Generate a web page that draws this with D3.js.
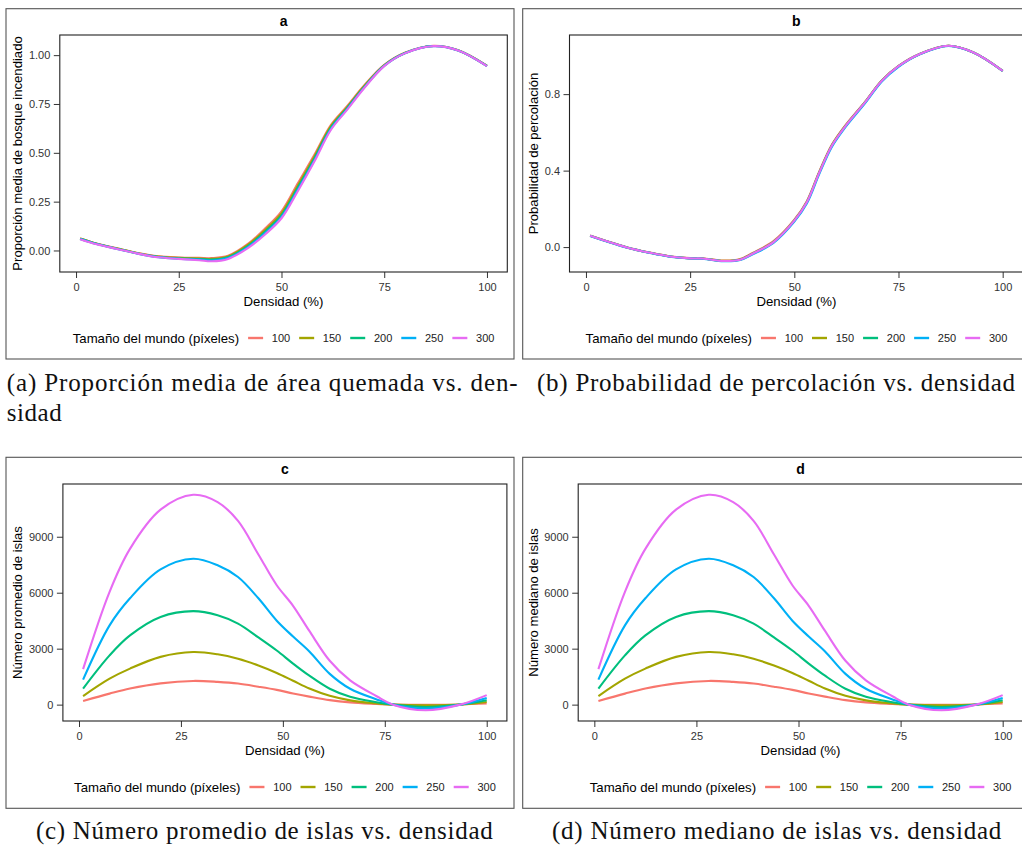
<!DOCTYPE html>
<html>
<head>
<meta charset="utf-8">
<script src="https://cdn.jsdelivr.net/npm/d3@7"></script>
<style>
  body { margin: 0; background: #fff; }
  svg { display: block; }
</style>
</head>
<body>
<svg id="fig" width="1022" height="846"></svg>
<script>
// Series: world size in pixels, one smoothed curve each
const tamanos = ['100', '150', '200', '250', '300'];
const colores = ['#F8766D', '#A3A500', '#00BF7D', '#00B0F6', '#E76BF3'];
const xTicks = [0, 25, 50, 75, 100];

// Panel a - mean burnt proportion
const densidadA = [1, 5, 10, 15, 20, 25, 30, 33, 37, 42, 46, 50, 54, 58, 62, 66, 70, 75, 80, 87, 93, 100];
const a100 = [0.062, 0.036, 0.011, -0.013, -0.030, -0.036, -0.038, -0.039, -0.027, 0.036, 0.112, 0.200, 0.345, 0.490, 0.642, 0.740, 0.842, 0.950, 1.012, 1.048, 1.025, 0.946];
const a150 = [0.061, 0.035, 0.010, -0.014, -0.031, -0.038, -0.041, -0.043, -0.031, 0.031, 0.104, 0.190, 0.333, 0.480, 0.635, 0.734, 0.838, 0.948, 1.011, 1.047, 1.025, 0.945];
const a200 = [0.060, 0.034, 0.009, -0.015, -0.033, -0.040, -0.044, -0.047, -0.035, 0.025, 0.096, 0.180, 0.322, 0.470, 0.628, 0.729, 0.834, 0.947, 1.010, 1.047, 1.024, 0.945];
const a250 = [0.059, 0.033, 0.008, -0.016, -0.034, -0.042, -0.047, -0.051, -0.039, 0.020, 0.089, 0.172, 0.313, 0.462, 0.622, 0.725, 0.831, 0.945, 1.010, 1.046, 1.024, 0.944];
const a300 = [0.058, 0.032, 0.008, -0.016, -0.035, -0.043, -0.050, -0.055, -0.043, 0.015, 0.082, 0.165, 0.305, 0.455, 0.617, 0.721, 0.828, 0.944, 1.009, 1.046, 1.024, 0.944];
const yTicksA = [0, 0.25, 0.5, 0.75, 1];

// Panel b - percolation probability
const densidadB = [1, 5, 10, 15, 20, 25, 28, 33, 37, 40, 45, 50, 53, 56, 59, 62, 67, 71, 75, 80, 87, 93, 100];
const b100 = [0.060, 0.031, -0.002, -0.027, -0.048, -0.058, -0.059, -0.071, -0.063, -0.031, 0.031, 0.143, 0.240, 0.396, 0.535, 0.630, 0.761, 0.872, 0.948, 1.010, 1.053, 1.018, 0.922];
const b150 = [0.059, 0.030, -0.003, -0.028, -0.049, -0.059, -0.060, -0.072, -0.065, -0.033, 0.028, 0.140, 0.236, 0.392, 0.532, 0.627, 0.759, 0.871, 0.947, 1.009, 1.053, 1.018, 0.922];
const b200 = [0.059, 0.030, -0.003, -0.028, -0.049, -0.059, -0.060, -0.073, -0.066, -0.035, 0.026, 0.138, 0.234, 0.390, 0.530, 0.625, 0.758, 0.870, 0.946, 1.009, 1.053, 1.018, 0.922];
const b250 = [0.058, 0.029, -0.004, -0.029, -0.050, -0.060, -0.061, -0.074, -0.068, -0.038, 0.022, 0.133, 0.228, 0.383, 0.524, 0.620, 0.753, 0.866, 0.943, 1.007, 1.052, 1.017, 0.921];
const b300 = [0.059, 0.030, -0.003, -0.028, -0.049, -0.059, -0.060, -0.073, -0.066, -0.035, 0.026, 0.138, 0.234, 0.390, 0.530, 0.625, 0.758, 0.870, 0.946, 1.009, 1.053, 1.018, 0.922];
const yTicksB = [0, 0.4, 0.8];

// Panels c and d - number of islands (mean and median read the same)
const densidadC = [1, 7.5, 12.5, 20, 28, 34, 39, 44, 48.5, 52.5, 56.5, 61.5, 66.5, 73, 77, 85, 93.5, 100];
const c100 = [200, 590, 860, 1140, 1270, 1220, 1130, 960, 790, 600, 430, 240, 120, 40, 0, -10, 10, 60];
const c150 = [460, 1390, 1930, 2560, 2820, 2700, 2460, 2100, 1700, 1280, 860, 470, 230, 65, 0, -40, 0, 140];
const c200 = [860, 2640, 3710, 4700, 5010, 4790, 4340, 3600, 2900, 2200, 1550, 850, 420, 130, 0, -125, 0, 230];
const c250 = [1340, 4250, 5700, 7250, 7820, 7470, 6840, 5700, 4500, 3650, 2850, 1650, 850, 280, 0, -210, 0, 360];
const c300 = [1900, 6050, 8350, 10450, 11250, 10860, 9850, 8050, 6400, 5300, 3950, 2350, 1300, 450, 0, -300, 0, 510];
const d100 = [200, 590, 860, 1140, 1270, 1220, 1130, 960, 790, 600, 430, 240, 120, 40, 0, -10, 10, 60];
const d150 = [460, 1390, 1930, 2560, 2820, 2700, 2460, 2100, 1700, 1280, 860, 470, 230, 65, 0, -40, 0, 140];
const d200 = [860, 2640, 3710, 4700, 5010, 4790, 4340, 3600, 2900, 2200, 1550, 850, 420, 130, 0, -125, 0, 230];
const d250 = [1340, 4250, 5700, 7250, 7820, 7470, 6840, 5700, 4500, 3650, 2850, 1650, 850, 280, 0, -210, 0, 360];
const d300 = [1900, 6050, 8350, 10450, 11250, 10860, 9850, 8050, 6400, 5300, 3950, 2350, 1300, 450, 0, -300, 0, 510];
const yTicksC = [0, 3000, 6000, 9000];

const SANS = '"Liberation Sans", Arial, Helvetica, sans-serif';
const SERIF = '"Liberation Serif", "Times New Roman", serif';

// Layout per panel: outer box, plot rect [left, top, right, bottom], captions
const panels = [
  { title: 'a', box: [6, 8.7, 508, 350.3], plot: [59.8, 35, 507.3, 272],
    dens: densidadA, series: [a100, a150, a200, a250, a300], yTicks: yTicksA, fmt: d3.format('.2f'),
    ylab: 'Proporción media de bosque incendiado',
    caption: [['(a) Proporción media de área quemada vs. den-', 6.7, 390.7, 511], ['sidad', 6.7, 420.7, 55]] },
  { title: 'b', box: [522.7, 8.7, 510, 350.3], plot: [569.5, 35, 1023.3, 272],
    dens: densidadB, series: [b100, b150, b200, b250, b300], yTicks: yTicksB, fmt: d3.format('.1f'),
    ylab: 'Probabilidad de percolación',
    caption: [['(b) Probabilidad de percolación vs. densidad', 537, 390.7, 478]] },
  { title: 'c', box: [6, 457.3, 508, 351], plot: [62.9, 484, 506.9, 721],
    dens: densidadC, series: [c100, c150, c200, c250, c300], yTicks: yTicksC, fmt: d3.format('d'),
    ylab: 'Número promedio de islas',
    caption: [['(c) Número promedio de islas vs. densidad', 36, 839, 456.7]] },
  { title: 'd', box: [522.7, 457.3, 510, 351], plot: [578.2, 484, 1022.9, 721],
    dens: densidadC, series: [d100, d150, d200, d250, d300], yTicks: yTicksC, fmt: d3.format('d'),
    ylab: 'Número mediano de islas',
    caption: [['(d) Número mediano de islas vs. densidad', 552, 839, 449.3]] }
];

const svg = d3.select('#fig');

function drawPanel(p) {
  const g = svg.append('g');
  const [bx, by, bw, bh] = p.box;
  const [l, t, r, b] = p.plot;

  // outer frame of the subfigure
  g.append('rect')
    .attr('x', bx).attr('y', by).attr('width', bw).attr('height', bh)
    .attr('fill', 'none').attr('stroke', '#555').attr('stroke-width', 1.1);

  // scales with ggplot-like 5% expansion
  const [x0, x1] = d3.extent(p.dens);
  const xPad = (x1 - x0) * 0.05;
  const x = d3.scaleLinear().domain([x0 - xPad, x1 + xPad]).range([l, r]);
  const [y0, y1] = d3.extent(p.series.flat());
  const yPad = (y1 - y0) * 0.05;
  const y = d3.scaleLinear().domain([y0 - yPad, y1 + yPad]).range([b, t]);

  // axes
  const xAxis = g.append('g')
    .attr('transform', `translate(0,${b})`)
    .call(d3.axisBottom(x).tickValues(xTicks).tickSize(6).tickPadding(5.5).tickFormat(d3.format('d')));
  const yAxis = g.append('g')
    .attr('transform', `translate(${l},0)`)
    .call(d3.axisLeft(y).tickValues(p.yTicks).tickSize(6).tickPadding(3.5).tickFormat(p.fmt));
  [xAxis, yAxis].forEach(ax => {
    ax.select('.domain').remove();
    ax.attr('font-family', SANS).attr('font-size', 11);
    ax.selectAll('line').attr('stroke', '#333').attr('stroke-width', 1);
    ax.selectAll('text').attr('fill', '#333');
  });

  // smoothed curves, 100 drawn first, 300 on top
  const line = d3.line()
    .x((d, i) => x(p.dens[i]))
    .y(d => y(d))
    .curve(d3.curveCatmullRom.alpha(0.5));
  g.append('g').selectAll('path')
    .data(p.series)
    .join('path')
    .attr('d', line)
    .attr('fill', 'none')
    .attr('stroke', (d, i) => colores[i])
    .attr('stroke-width', 2.1)
    .attr('stroke-linejoin', 'round');

  // panel border
  g.append('rect')
    .attr('x', l).attr('y', t).attr('width', r - l).attr('height', b - t)
    .attr('fill', 'none').attr('stroke', '#222').attr('stroke-width', 1.1);

  // titles
  g.append('text')
    .attr('x', (l + r) / 2).attr('y', by + 16.8)
    .attr('text-anchor', 'middle')
    .attr('font-family', SANS).attr('font-size', 14).attr('font-weight', 'bold')
    .text(p.title);
  g.append('text')
    .attr('x', (l + r) / 2).attr('y', b + 33.5)
    .attr('text-anchor', 'middle')
    .attr('font-family', SANS).attr('font-size', 13.2)
    .text('Densidad (%)');
  g.append('text')
    .attr('transform', 'rotate(-90)')
    .attr('x', -(t + b) / 2).attr('y', bx + 15.5)
    .attr('text-anchor', 'middle')
    .attr('font-family', SANS).attr('font-size', 13.1)
    .text(p.ylab);

  // legend, centred under the plot
  const leg = g.append('g').attr('font-family', SANS);
  const legTitle = leg.append('text')
    .attr('x', 0).attr('dy', '0.35em').attr('font-size', 13.2)
    .text('Tamaño del mundo (píxeles)');
  let cx = legTitle.node().getComputedTextLength() + 9;
  tamanos.forEach((s, i) => {
    leg.append('line')
      .attr('x1', cx).attr('x2', cx + 15).attr('y1', 0).attr('y2', 0)
      .attr('stroke', colores[i]).attr('stroke-width', 2.4);
    cx += 15 + 8.7;
    const lab = leg.append('text')
      .attr('x', cx).attr('dy', '0.35em').attr('font-size', 11).attr('fill', '#222')
      .text(s);
    cx += lab.node().getComputedTextLength() + 9;
  });
  cx -= 9;
  leg.attr('transform', `translate(${(l + r) / 2 - cx / 2},${b + 66})`);

  // LaTeX-style subcaption
  p.caption.forEach(([txt, tx, ty, tw]) => {
    svg.append('text')
      .attr('x', tx).attr('y', ty)
      .attr('font-family', SERIF).attr('font-size', 25)
      .attr('textLength', tw).attr('lengthAdjust', 'spacing')
      .attr('fill', '#111')
      .text(txt);
  });
}

panels.forEach(drawPanel);
</script>
</body>
</html>
